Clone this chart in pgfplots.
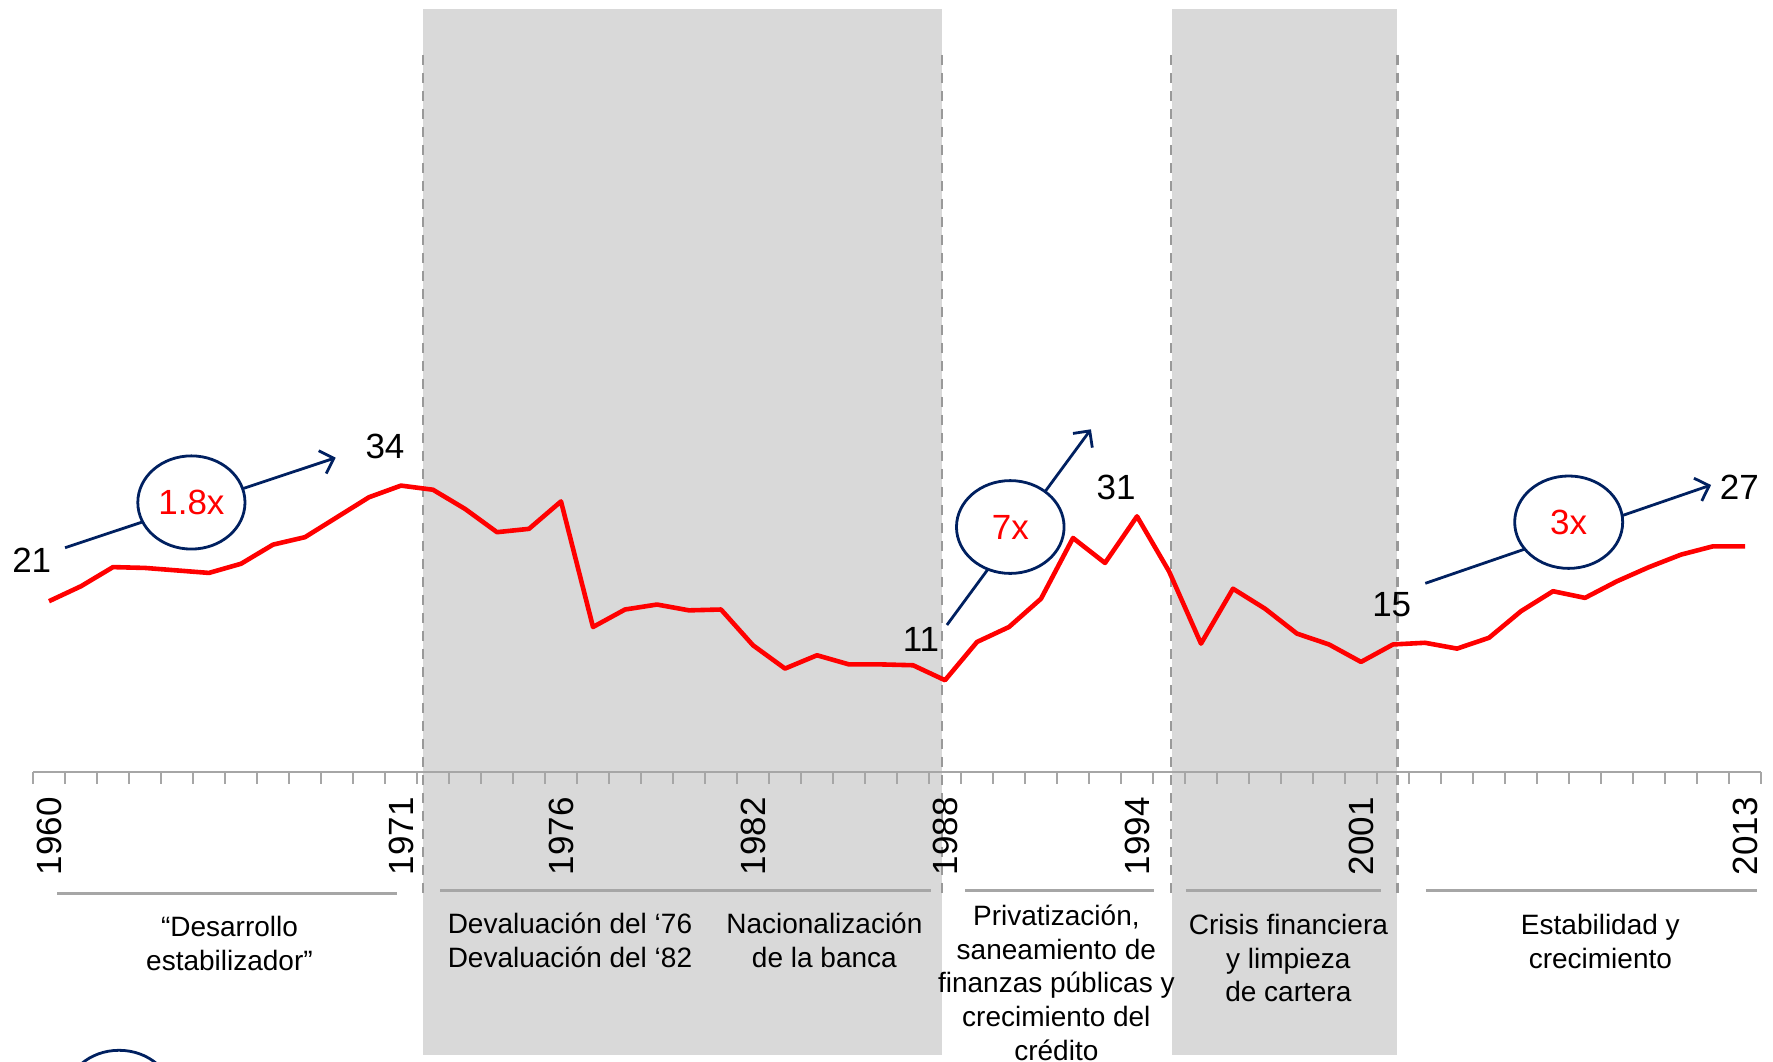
\documentclass[border=0pt]{standalone}
\usepackage{fontspec}
\setmainfont{Liberation Sans}
\usepackage{pgfplots}
\pgfplotsset{compat=1.18}
\usetikzlibrary{arrows.meta}
\definecolor{navy}{HTML}{002060}
\definecolor{band}{HTML}{D9D9D9}
\definecolor{dashg}{HTML}{999999}
\definecolor{axgray}{HTML}{A6A6A6}
\newcommand{\nfont}{\fontsize{17.5pt}{21pt}\selectfont}
\newcommand{\gfont}{\fontsize{14pt}{16.8pt}\selectfont}
\begin{document}
\begin{tikzpicture}
\useasboundingbox (0,0) rectangle (886.5pt,530.5pt);
\begin{axis}[
  at={(16.5pt,144.65pt)}, anchor=south west,
  x=16pt, y=4.1585pt,
  xmin=1959.5, xmax=2013.5, ymin=0, ymax=92,
  clip=false, axis on top,
  axis x line*=bottom, axis y line=none, ytick=\empty,
  x axis line style={axgray, line width=1.2pt},
  xtick={1960,1971,1976,1982,1988,1994,2001,2013},
  xticklabels={1960,1971,1976,1982,1988,1994,2001,2013},
  major tick length=0pt,
  minor xtick={1959.5,1960.5,...,2013.5},
  minor tick length=6pt,
  tick align=outside,
  minor tick style={axgray, line width=1pt},
  xticklabel style={font=\nfont, yshift=-12.6pt, rotate=90, anchor=east, inner sep=0pt},
]
% shaded periods
\fill[band] (axis cs:1971.69,-34.06) rectangle (axis cs:1987.9,91.7);
\fill[band] (axis cs:1995.1,-34.06) rectangle (axis cs:2002.14,91.7);
% dashed separators
\foreach \xx in {1971.69,1987.9,1995.05,2002.14}{
  \edef\tmp{\noexpand\draw[dashg, line width=1.1pt, dash pattern=on 5pt off 4pt] (axis cs:\xx,86.2) -- (axis cs:\xx,-15.4);}
  \tmp
}
% series
\addplot[red, line width=2.3pt, line join=round, mark=none] coordinates {
(1960,20.5) (1961,22.3) (1962,24.6) (1963,24.5) (1964,24.2) (1965,23.9)
(1966,25.0) (1967,27.3) (1968,28.2) (1969,30.6) (1970,33.0) (1971,34.4)
(1972,33.9) (1973,31.6) (1974,28.8) (1975,29.2) (1976,32.5) (1977,17.4)
(1978,19.5) (1979,20.1) (1980,19.4) (1981,19.5) (1982,15.2) (1983,12.4)
(1984,14.0) (1985,12.9) (1986,12.9) (1987,12.8) (1988,11.0) (1989,15.6)
(1990,17.4) (1991,20.8) (1992,28.1) (1993,25.1) (1994,30.7) (1995,24.1)
(1996,15.4) (1997,22.0) (1998,19.6) (1999,16.6) (2000,15.3) (2001,13.2)
(2002,15.3) (2003,15.5) (2004,14.8) (2005,16.1) (2006,19.3) (2007,21.7)
(2008,20.9) (2009,22.9) (2010,24.6) (2011,26.1) (2012,27.1) (2013,27.1)
};
% period rules
\draw[axgray, line width=1.5pt] (axis cs:1960.25,-14.6) -- (axis cs:1970.875,-14.6);
\draw[axgray, line width=1.5pt] (axis cs:1972.22,-14.3) -- (axis cs:1987.56,-14.3);
\draw[axgray, line width=1.5pt] (axis cs:1988.63,-14.3) -- (axis cs:1994.53,-14.3);
\draw[axgray, line width=1.5pt] (axis cs:1995.53,-14.3) -- (axis cs:2001.63,-14.3);
\draw[axgray, line width=1.5pt] (axis cs:2003.03,-14.3) -- (axis cs:2013.38,-14.3);
% period texts
\node[align=center, font=\gfont, inner sep=0pt] at (axis cs:1965.64,-20.63) {“Desarrollo\\estabilizador”};
\node[align=center, font=\gfont, inner sep=0pt] at (axis cs:1976.28,-20.24) {Devaluación del ‘76\\Devaluación del ‘82};
\node[align=center, font=\gfont, inner sep=0pt] at (axis cs:1984.23,-20.24) {Nacionalización\\de la banca};
\node[align=center, font=\gfont, inner sep=0pt] at (axis cs:1991.48,-25.37) {Privatización,\\saneamiento de\\finanzas públicas y\\crecimiento del\\crédito};
\node[align=center, font=\gfont, inner sep=0pt] at (axis cs:1998.73,-22.4) {Crisis financiera\\y limpieza\\de cartera};
\node[align=center, font=\gfont, inner sep=0pt] at (axis cs:2008.48,-20.38) {Estabilidad y\\crecimiento};
% growth annotations
\draw[navy, line width=1.4pt, -{Straight Barb[length=6pt,width=12pt]}] (axis cs:1960.5,26.93) -- (axis cs:1968.96,37.75);
\draw[navy, line width=1.4pt, fill=white] (axis cs:1964.45,32.37) ellipse [x radius=26.8pt, y radius=23.3pt];
\node[red, font=\nfont] at (axis cs:1964.45,32.37) {1.8x};
\draw[navy, line width=1.4pt, -{Straight Barb[length=6pt,width=12pt]}] (axis cs:1988.06,17.64) -- (axis cs:1992.56,41.17);
\draw[navy, line width=1.4pt, fill=white] (axis cs:1990.04,29.42) ellipse [x radius=26.9pt, y radius=23.2pt];
\node[red, font=\nfont] at (axis cs:1990.04,29.42) {7x};
\draw[navy, line width=1.4pt, -{Straight Barb[length=6pt,width=12pt]}] (axis cs:2003.01,22.65) -- (axis cs:2011.94,34.47);
\draw[navy, line width=1.4pt, fill=white] (axis cs:2007.49,30.0) ellipse [x radius=27pt, y radius=23.1pt];
\node[red, font=\nfont] at (axis cs:2007.49,30.0) {3x};
% value labels
\node[font=\nfont, inner sep=0pt] at (axis cs:1959.46,25.4) {21};
\node[font=\nfont, inner sep=0pt] at (axis cs:1970.5,39.08) {34};
\node[font=\nfont, inner sep=0pt] at (axis cs:1987.25,15.9) {11};
\node[font=\nfont, inner sep=0pt] at (axis cs:1993.35,34.23) {31};
\node[font=\nfont, inner sep=0pt] at (axis cs:2001.96,20.14) {15};
\node[font=\nfont, inner sep=0pt] at (axis cs:2012.82,34.23) {27};
% partially visible legend ellipse at bottom left
\draw[navy, line width=1.4pt] (axis cs:1962.19,-39.1) ellipse [x radius=26.8pt, y radius=23.3pt];
\end{axis}
\end{tikzpicture}
\end{document}
